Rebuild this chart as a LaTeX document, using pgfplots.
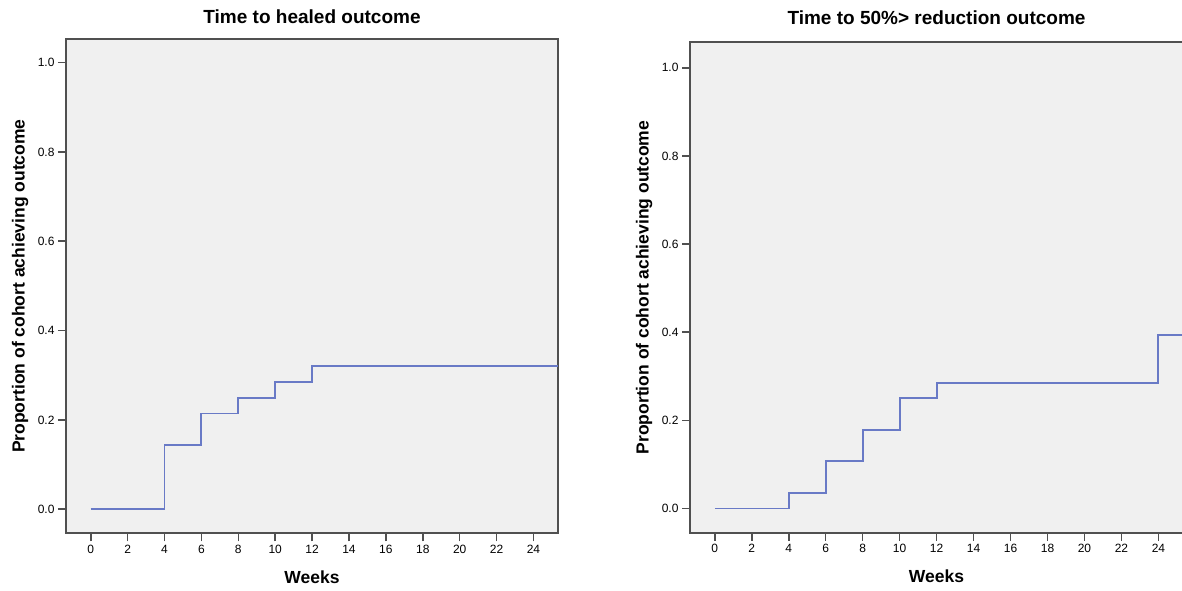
\documentclass[border=0pt]{standalone}
\usepackage{pgfplots}
\pgfplotsset{compat=1.18}
\usepackage{fontspec}
\setmainfont{Liberation Sans}
\definecolor{bgcol}{RGB}{240,240,240}
\definecolor{axcol}{RGB}{80,80,80}
\definecolor{linecol}{RGB}{105,122,198}

\pgfplotsset{
  spssaxis/.style={
    scale only axis,
    axis background/.style={fill=bgcol},
    axis line style={draw=axcol, line width=1.8pt},
    tick style={draw=axcol, line width=1.6pt},
    tick align=outside,
    major tick length=8pt,
    xtick pos=bottom, ytick pos=left,
    xmin=-1.34, xmax=25.33,
    xtick={0,2,...,24},
    ytick={0,0.2,0.4,0.6,0.8,1.0},
    yticklabel style={/pgf/number format/.cd, fixed, fixed zerofill, precision=1},
    /pgf/number format/assume math mode=true,
    tick label style={font=\fontsize{12}{12}\selectfont, text=black},
    label style={font=\bfseries\fontsize{17.5}{17.5}\selectfont},
    title style={font=\bfseries\fontsize{19}{19}\selectfont, anchor=base},
    xlabel={Weeks},
    ylabel={Proportion of cohort achieving outcome},
  }
}

\begin{document}
\begin{tikzpicture}
% left panel: healed
\begin{axis}[spssaxis,
  at={(66pt,56.7pt)}, anchor=south west,
  width=492pt, height=494.3pt,
  ymin=-0.054, ymax=1.053,
  title={Time to healed outcome},
  title style={at={(axis description cs:0.5,1)}, yshift=9pt},
  xlabel style={at={(axis description cs:0.5,-0.101)}, anchor=base},
  ylabel style={at={(axis description cs:-0.084,0.5)}, anchor=base},
]
\addplot[const plot, color=linecol, line width=1.9pt] coordinates {
  (0,0) (4,0.1429) (6,0.2143) (8,0.25) (10,0.2857) (12,0.3214) (25.33,0.3214)
};
\end{axis}
% right panel: 50% reduction
\begin{axis}[spssaxis,
  at={(690pt,57.3pt)}, anchor=south west,
  width=493pt, height=490.4pt,
  ymin=-0.055, ymax=1.058,
  title={Time to 50\%> reduction outcome},
  title style={at={(axis description cs:0.5,1)}, yshift=12pt},
  xlabel style={at={(axis description cs:0.5,-0.102)}, anchor=base},
  ylabel style={at={(axis description cs:-0.0842,0.5)}, anchor=base},
]
\addplot[const plot, color=linecol, line width=1.9pt] coordinates {
  (0,0) (4,0.0357) (6,0.1071) (8,0.1786) (10,0.25) (12,0.2857) (24,0.3929) (25.33,0.3929)
};
\end{axis}
\pgfresetboundingbox
\path[use as bounding box] (0pt,0pt) rectangle (1182pt,590pt);
\end{tikzpicture}
\end{document}
